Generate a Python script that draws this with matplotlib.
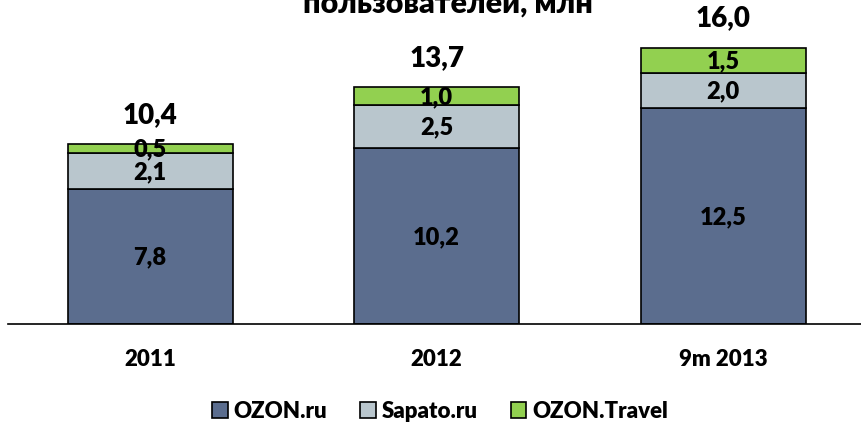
import numpy as np
import matplotlib.pyplot as plt

years = ['2011', '2012', '9m 2013']
ozon = [7.8, 10.2, 12.5]
sapato = [2.1, 2.5, 2.0]
travel = [0.5, 1.0, 1.5]
totals = [10.4, 13.7, 16.0]
series_names = ['OZON.ru', 'Sapato.ru', 'OZON.Travel']
colors = ['#5B6D8E', '#B9C6CD', '#92D050']

plt.rcParams['font.family'] = ['Lato', 'DejaVu Sans']
plt.rcParams['font.weight'] = 'bold'


def fmt(v):
    return ('%.1f' % v).replace('.', ',')


fig = plt.figure(figsize=(8.62, 4.27), dpi=100)
ax = fig.add_axes([8 / 862, 1 - 325 / 427, 1 - 8 / 862, 311 / 427])

x = np.arange(len(years))
width = 0.576
bottom = np.zeros(len(years))
for vals, name, color in zip([ozon, sapato, travel], series_names, colors):
    ax.bar(x, vals, width, bottom=bottom, color=color, edgecolor='black',
           linewidth=1.2, label=name)
    for xi, b, v in zip(x, bottom, vals):
        ax.text(xi, b + v / 2, fmt(v), ha='center', va='center',
                fontsize=17, fontweight='heavy', color='black')
    bottom = bottom + np.array(vals)

for xi, t in zip(x, totals):
    ax.annotate(fmt(t), (xi, t), xytext=(0, 22), textcoords='offset points',
                ha='center', va='center', fontsize=20, fontweight='heavy')

ax.set_xlim(-0.496, 2.485)
ax.set_ylim(0, 18)
ax.set_xticks(x)
ax.set_xticklabels(years, fontsize=16, fontweight='heavy')
ax.tick_params(axis='x', length=0, pad=17)
ax.set_yticks([])
for s in ['top', 'left', 'right']:
    ax.spines[s].set_visible(False)
ax.spines['bottom'].set_linewidth(1.2)
ax.patch.set_alpha(0)

fig.text(448 / 862, 1 - 13 / 427, 'пользователей, млн', ha='center', va='baseline',
         fontsize=22, fontweight='heavy')

fig.legend(loc='center', bbox_to_anchor=(440 / 862, 1 - 412 / 427), ncol=3,
           frameon=False, prop={'size': 16, 'weight': 'heavy'},
           handlelength=0.7, handleheight=0.7,
           handletextpad=0.25, columnspacing=1.5)

fig.savefig('out.png', dpi=100)
